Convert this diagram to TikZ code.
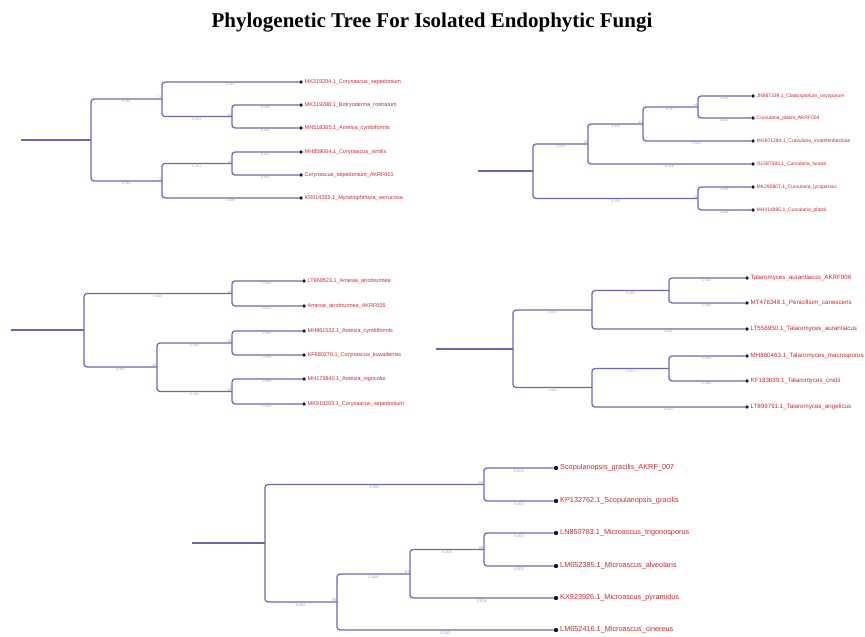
\documentclass[tikz,border=0pt]{standalone}
\usepackage{fontspec}
\setmainfont{Liberation Sans}
\newfontfamily\titlefont{Liberation Serif}
\usetikzlibrary{positioning}
\definecolor{edge}{RGB}{104,104,178}
\definecolor{tipdot}{RGB}{20,22,64}
\definecolor{taxred}{RGB}{200,36,48}
\definecolor{lengray}{RGB}{160,160,160}

\tikzset{
  branch/.style={draw=edge, line width=1.25pt, rounded corners=3pt},
  tip/.style={circle, fill=tipdot, inner sep=0pt, minimum size=3.8pt},
  taxon/.style={text=taxred, inner sep=0.6pt, font=\fontsize{5.5}{6}\selectfont},
  blen/.style={pos=0.75, below=0.3pt, inner sep=0.4pt, text=lengray, font=\fontsize{3.4}{4}\selectfont},
  boot/.style={above left=-0.5pt and 0pt, inner sep=0.4pt, text=lengray, font=\fontsize{3.4}{4}\selectfont}
}

\begin{document}
\begin{tikzpicture}[x=1pt, y=-1pt]
  \useasboundingbox (0,0) rectangle (865,637);
  \node[font=\titlefont\bfseries\fontsize{21}{25}\selectfont] (title) at (432,23) {Phylogenetic Tree For Isolated Endophytic Fungi};

  % tree 1 (top left)
  \coordinate (r1s) at (21,140);
  \coordinate (r1) at (91,140);
  \coordinate (u1) at (162,99);
  \coordinate (s1) at (232,116.5);
  \coordinate (l1) at (162,181);
  \coordinate (s2) at (232,163.5);
  \node[tip] (a1) at (301,82) {};
  \node[tip] (a2) at (301,105) {};
  \node[tip] (a3) at (301,128) {};
  \node[tip] (a4) at (301,152) {};
  \node[tip] (a5) at (301,175) {};
  \node[tip] (a6) at (301,198) {};
  \node[taxon, right=0.8pt of a1] (a1t) {MK319294.1\_Corynascus\_sepedonium};
  \node[taxon, right=0.8pt of a2] (a2t) {MK319288.1\_Botryoderma\_rostratum};
  \node[taxon, right=0.8pt of a3] (a3t) {MN518365.1\_Amesia\_cymbiformis};
  \node[taxon, right=0.8pt of a4] (a4t) {MH859064.1\_Corynascus\_similis};
  \node[taxon, right=0.8pt of a5] (a5t) {Corynascus\_sepedonium\_AKRF001};
  \node[taxon, right=0.8pt of a6] (a6t) {KR014355.1\_Myceliophthora\_verrucosa};
  \draw[branch] (r1s) -- (r1);
  \draw[branch] (r1) |- (u1) node[blen] {0.261};
  \draw[branch] (r1) |- (l1) node[blen] {0.261};
  \draw[branch] (u1) |- (a1) node[blen] {0.261};
  \draw[branch] (u1) |- (s1) node[blen] {0.261};
  \draw[branch] (s1) |- (a2) node[blen] {0.006};
  \draw[branch] (s1) |- (a3) node[blen] {0.116};
  \draw[branch] (l1) |- (s2) node[blen] {0.261};
  \draw[branch] (l1) |- (a6) node[blen] {0.038};
  \draw[branch] (s2) |- (a4) node[blen] {0.001};
  \draw[branch] (s2) |- (a5) node[blen] {0.001};
  \node[boot] (b1) at (u1) {77};
  \node[boot] (b2) at (s1) {99};
  \node[boot] (b3) at (l1) {77};
  \node[boot] (b4) at (s2) {78};

  % tree 2 (top right)
  \begin{scope}[taxon/.append style={font=\fontsize{5}{6}\selectfont}]
  \coordinate (r2s) at (478,171);
  \coordinate (r2) at (533,171);
  \coordinate (p1) at (588,144);
  \coordinate (p2) at (643,124);
  \coordinate (p3) at (698,107);
  \coordinate (p4) at (698,198.5);
  \node[tip] (c1) at (753,96) {};
  \node[tip] (c2) at (753,118) {};
  \node[tip] (c3) at (753,141) {};
  \node[tip] (c4) at (753,164) {};
  \node[tip] (c5) at (753,187) {};
  \node[tip] (c6) at (753,210) {};
  \node[taxon, right=0.8pt of c1] (c1t) {JN887339.1\_Cladosporium\_oxysporum};
  \node[taxon, right=0.8pt of c2] (c2t) {Curvularia\_platzii\_AKRF004};
  \node[taxon, right=0.8pt of c3] (c3t) {MG971284.1\_Curvularia\_muehlenbeckiae};
  \node[taxon, right=0.8pt of c4] (c4t) {OL587595.1\_Curvularia\_lunata};
  \node[taxon, right=0.8pt of c5] (c5t) {MK295807.1\_Curvularia\_lycopersici};
  \node[taxon, right=0.8pt of c6] (c6t) {MH414895.1\_Curvularia\_platzii};
  \draw[branch] (r2s) -- (r2);
  \draw[branch] (r2) |- (p1) node[blen] {0.098};
  \draw[branch] (r2) |- (p4) node[blen] {0.036};
  \draw[branch] (p1) |- (p2) node[blen] {0.036};
  \draw[branch] (p1) |- (c4) node[blen] {0.036};
  \draw[branch] (p2) |- (p3) node[blen] {0.017};
  \draw[branch] (p2) |- (c3) node[blen] {0.001};
  \draw[branch] (p3) |- (c1) node[blen] {0.001};
  \draw[branch] (p3) |- (c2) node[blen] {0.001};
  \draw[branch] (p4) |- (c5) node[blen] {0.001};
  \draw[branch] (p4) |- (c6) node[blen] {0.001};
  \node[boot] (b5) at (p1) {44};
  \node[boot] (b6) at (p2) {12};
  \node[boot] (b7) at (p3) {99};
  \node[boot] (b8) at (p4) {99};
  \end{scope}

  % tree 3 (middle left)
  \coordinate (r3s) at (11,330);
  \coordinate (r3) at (84,330);
  \coordinate (q1) at (232,293.5);
  \coordinate (q2) at (157,367);
  \coordinate (q3) at (232,343);
  \coordinate (q4) at (232,391.5);
  \node[tip] (d1) at (304,281) {};
  \node[tip] (d2) at (304,306) {};
  \node[tip] (d3) at (304,331) {};
  \node[tip] (d4) at (304,355) {};
  \node[tip] (d5) at (304,379) {};
  \node[tip] (d6) at (304,404) {};
  \node[taxon, right=0.8pt of d1] (d1t) {LT969523.1\_Amesia\_atrobrunnea};
  \node[taxon, right=0.8pt of d2] (d2t) {Amesia\_atrobrunnea\_AKRF005};
  \node[taxon, right=0.8pt of d3] (d3t) {MH861532.1\_Amesia\_cymbiformis};
  \node[taxon, right=0.8pt of d4] (d4t) {KF680270.1\_Corynascus\_kuwaitensis};
  \node[taxon, right=0.8pt of d5] (d5t) {MH173840.1\_Amesia\_nigricolor};
  \node[taxon, right=0.8pt of d6] (d6t) {MK919293.1\_Corynascus\_sepedonium};
  \draw[branch] (r3s) -- (r3);
  \draw[branch] (r3) |- (q1) node[blen] {0.030};
  \draw[branch] (r3) |- (q2) node[blen] {0.362};
  \draw[branch] (q1) |- (d1) node[blen] {0.001};
  \draw[branch] (q1) |- (d2) node[blen] {0.001};
  \draw[branch] (q2) |- (q3) node[blen] {0.362};
  \draw[branch] (q2) |- (q4) node[blen] {0.362};
  \draw[branch] (q3) |- (d3) node[blen] {0.001};
  \draw[branch] (q3) |- (d4) node[blen] {-0.001};
  \draw[branch] (q4) |- (d5) node[blen] {0.006};
  \draw[branch] (q4) |- (d6) node[blen] {0.219};
  \node[boot] (b9) at (q1) {99};
  \node[boot] (b10) at (q2) {64};
  \node[boot] (b11) at (q3) {99};
  \node[boot] (b12) at (q4) {63};

  % tree 4 (middle right)
  \begin{scope}[taxon/.append style={font=\fontsize{6.2}{7}\selectfont}]
  \coordinate (r4s) at (436,349);
  \coordinate (r4) at (513,349);
  \coordinate (v1) at (592,310);
  \coordinate (v2) at (669,290.5);
  \coordinate (v3) at (592,387.5);
  \coordinate (v4) at (669,368.5);
  \node[tip] (e1) at (747,278) {};
  \node[tip] (e2) at (747,303) {};
  \node[tip] (e3) at (747,329) {};
  \node[tip] (e4) at (747,356) {};
  \node[tip] (e5) at (747,381) {};
  \node[tip] (e6) at (747,407) {};
  \node[taxon, right=0.8pt of e1] (e1t) {Talaromyces\_aurantiacus\_AKRF006};
  \node[taxon, right=0.8pt of e2] (e2t) {MT476348.1\_Penicillium\_canescens};
  \node[taxon, right=0.8pt of e3] (e3t) {LT558950.1\_Talaromyces\_aurantiacus};
  \node[taxon, right=0.8pt of e4] (e4t) {MH860463.1\_Talaromyces\_macrosporus};
  \node[taxon, right=0.8pt of e5] (e5t) {KF183639.1\_Talaromyces\_cnidii};
  \node[taxon, right=0.8pt of e6] (e6t) {LT899791.1\_Talaromyces\_angelicus};
  \draw[branch] (r4s) -- (r4);
  \draw[branch] (r4) |- (v1) node[blen] {0.011};
  \draw[branch] (r4) |- (v3) node[blen] {0.011};
  \draw[branch] (v1) |- (v2) node[blen] {0.008};
  \draw[branch] (v1) |- (e3) node[blen] {0.001};
  \draw[branch] (v2) |- (e1) node[blen] {0.002};
  \draw[branch] (v2) |- (e2) node[blen] {0.006};
  \draw[branch] (v3) |- (v4) node[blen] {0.003};
  \draw[branch] (v3) |- (e6) node[blen] {0.003};
  \draw[branch] (v4) |- (e4) node[blen] {0.006};
  \draw[branch] (v4) |- (e5) node[blen] {0.006};
  \end{scope}

  % tree 5 (bottom)
  \begin{scope}[taxon/.append style={font=\fontsize{7.3}{8}\selectfont},
                blen/.append style={font=\fontsize{4}{5}\selectfont},
                boot/.append style={font=\fontsize{4}{5}\selectfont}]
  \coordinate (r5s) at (192,543);
  \coordinate (r5) at (265,543);
  \coordinate (w1) at (484,484.5);
  \coordinate (w2) at (337,602);
  \coordinate (w3) at (410,574);
  \coordinate (w4) at (484,549.5);
  \node[tip, minimum size=4.4pt] (f1) at (556,468) {};
  \node[tip, minimum size=4.4pt] (f2) at (556,501) {};
  \node[tip, minimum size=4.4pt] (f3) at (556,533) {};
  \node[tip, minimum size=4.4pt] (f4) at (556,566) {};
  \node[tip, minimum size=4.4pt] (f5) at (556,598) {};
  \node[tip, minimum size=4.4pt] (f6) at (556,630) {};
  \node[taxon, right=1pt of f1] (f1t) {Scopulariopsis\_gracilis\_AKRF\_007};
  \node[taxon, right=1pt of f2] (f2t) {KP132762.1\_Scopulariopsis\_gracilis};
  \node[taxon, right=1pt of f3] (f3t) {LN850783.1\_Microascus\_trigonosporus};
  \node[taxon, right=1pt of f4] (f4t) {LM652385.1\_Microascus\_alveolaris};
  \node[taxon, right=1pt of f5] (f5t) {KX923926.1\_Microascus\_pyramidus};
  \node[taxon, right=1pt of f6] (f6t) {LM652416.1\_Microascus\_cinereus};
  \draw[branch] (r5s) -- (r5);
  \draw[branch] (r5) |- (w1) node[blen] {0.001};
  \draw[branch] (r5) |- (w2) node[blen] {0.001};
  \draw[branch] (w1) |- (f1) node[blen] {0.000};
  \draw[branch] (w1) |- (f2) node[blen] {0.000};
  \draw[branch] (w2) |- (w3) node[blen] {0.006};
  \draw[branch] (w2) |- (f6) node[blen] {0.000};
  \draw[branch] (w3) |- (w4) node[blen] {0.005};
  \draw[branch] (w3) |- (f5) node[blen] {0.008};
  \draw[branch] (w4) |- (f3) node[blen] {0.000};
  \draw[branch] (w4) |- (f4) node[blen] {0.002};
  \node[boot] (b13) at (w1) {93};
  \node[boot] (b14) at (w2) {93};
  \node[boot] (b15) at (w3) {67};
  \node[boot] (b16) at (w4) {93};
  \end{scope}
\end{tikzpicture}
\end{document}
